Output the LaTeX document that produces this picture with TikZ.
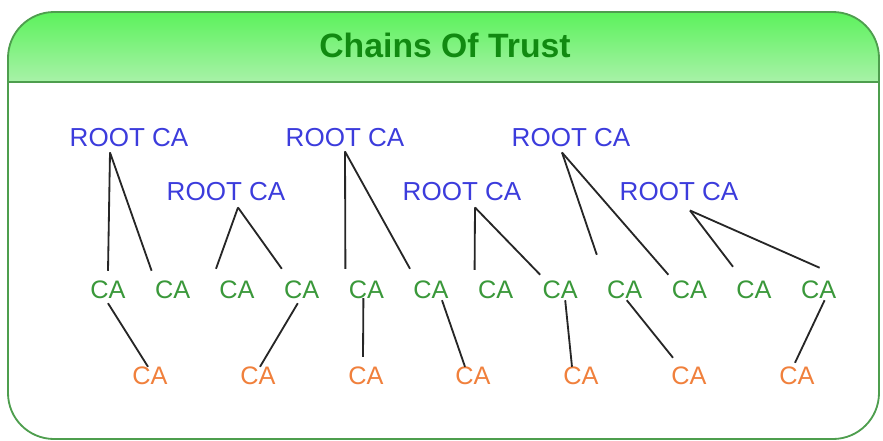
\documentclass[tikz,border=0pt]{standalone}
\usepackage{fontspec}
\setmainfont{Liberation Sans}
\usepackage{tikz}
\definecolor{rootblue}{HTML}{3C3CDC}
\definecolor{cagreen}{HTML}{3A983A}
\definecolor{leaforange}{HTML}{F0803C}
\definecolor{titlegreen}{HTML}{118A11}
\definecolor{framegreen}{HTML}{4E9E4E}
\definecolor{headtop}{HTML}{5CF25C}
\definecolor{headbottom}{HTML}{A8F2A8}
\definecolor{edgegray}{HTML}{262626}
\tikzstyle{rootca}=[inner sep=0pt, text=rootblue, font=\fontsize{18.5}{22}\selectfont]
\tikzstyle{midca}=[inner sep=0pt, text=cagreen, font=\fontsize{18}{22}\selectfont]
\tikzstyle{leafca}=[inner sep=0pt, text=leaforange, font=\fontsize{18}{22}\selectfont]
\tikzstyle{link}=[draw=edgegray, line width=1.3pt]

\begin{document}
\begin{tikzpicture}[x=0.025cm, y=-0.025cm]
			\useasboundingbox (0,0) rectangle (883,441);
			% frame with shaded header
			\begin{scope}
				\clip[rounded corners=1.15cm] (8,12) rectangle (879,439);
				\shade[top color=headtop, bottom color=headbottom] (8,12) rectangle (879,82);
			\end{scope}
			\draw[framegreen, line width=1.5pt] (8,82) -- (879,82);
			\draw[framegreen, line width=1.3pt, rounded corners=1.15cm] (8,12) rectangle (879,439);
			\node[text=titlegreen, font=\fontsize{24}{28}\selectfont\bfseries] (title) at (445,45) {Chains Of Trust};

			\node[rootca] (root1) at (129,138) {ROOT CA};
			\node[rootca] (root2) at (226,192) {ROOT CA};
			\node[rootca] (root3) at (345,138) {ROOT CA};
			\node[rootca] (root4) at (462,192) {ROOT CA};
			\node[rootca] (root5) at (571,138) {ROOT CA};
			\node[rootca] (root6) at (679,192) {ROOT CA};

			\node[midca] (mid1) at (108,290) {CA};
			\node[midca] (mid2) at (172.6,290) {CA};
			\node[midca] (mid3) at (237,290) {CA};
			\node[midca] (mid4) at (301.8,290) {CA};
			\node[midca] (mid5) at (366.4,290) {CA};
			\node[midca] (mid6) at (431,290) {CA};
			\node[midca] (mid7) at (495.6,290) {CA};
			\node[midca] (mid8) at (560.2,290) {CA};
			\node[midca] (mid9) at (624.8,290) {CA};
			\node[midca] (mid10) at (689.4,290) {CA};
			\node[midca] (mid11) at (754,290) {CA};
			\node[midca] (mid12) at (818.6,290) {CA};

			\node[leafca] (leaf1) at (150,376) {CA};
			\node[leafca] (leaf2) at (258,376) {CA};
			\node[leafca] (leaf3) at (366,376) {CA};
			\node[leafca] (leaf4) at (473,376) {CA};
			\node[leafca] (leaf5) at (581,376) {CA};
			\node[leafca] (leaf6) at (689,376) {CA};
			\node[leafca] (leaf7) at (797,376) {CA};

			% root to CA
			\path[link] ([shift={(-19,5)}]root1.south) -- ([shift={(0,-10)}]mid1.north);
			\path[link] ([shift={(-19,5)}]root1.south) -- ([shift={(-21,-10)}]mid2.north);
			\path[link] ([shift={(12,6)}]root2.south) -- ([shift={(-21,-12)}]mid3.north);
			\path[link] ([shift={(12,6)}]root2.south) -- ([shift={(-20,-12)}]mid4.north);
			\path[link] ([shift={(0,4)}]root3.south) -- ([shift={(-21,-12)}]mid5.north);
			\path[link] ([shift={(0,4)}]root3.south) -- ([shift={(-21,-12)}]mid6.north);
			\path[link] ([shift={(13,6)}]root4.south) -- ([shift={(-21,-11)}]mid7.north);
			\path[link] ([shift={(13,6)}]root4.south) -- ([shift={(-20,-6)}]mid8.north);
			\path[link] ([shift={(-9,5)}]root5.south) -- ([shift={(-28,-26)}]mid9.north);
			\path[link] ([shift={(-9,5)}]root5.south) -- ([shift={(-21,-6)}]mid10.north);
			\path[link] ([shift={(11,9)}]root6.south) -- ([shift={(-21,-14)}]mid11.north);
			\path[link] ([shift={(11,9)}]root6.south) -- ([shift={(1,-13)}]mid12.north);

			% CA to lower CA
			\path[link] ([shift={(0,4)}]mid1.south) -- ([shift={(-2,0)}]leaf1.north);
			\path[link] ([shift={(-4,4)}]mid4.south) -- ([shift={(2,0)}]leaf2.north);
			\path[link] ([shift={(-3,-1)}]mid5.south) -- ([shift={(-3,-10)}]leaf3.north);
			\path[link] ([shift={(11,1)}]mid6.south) -- ([shift={(-8,0)}]leaf4.north);
			\path[link] ([shift={(5,1)}]mid8.south) -- ([shift={(-9,0)}]leaf5.north);
			\path[link] ([shift={(2,1)}]mid9.south) -- ([shift={(-16,-9)}]leaf6.north);
			\path[link] ([shift={(6,1)}]mid12.south) -- ([shift={(-2,-4)}]leaf7.north);
		\end{tikzpicture}
\end{document}
